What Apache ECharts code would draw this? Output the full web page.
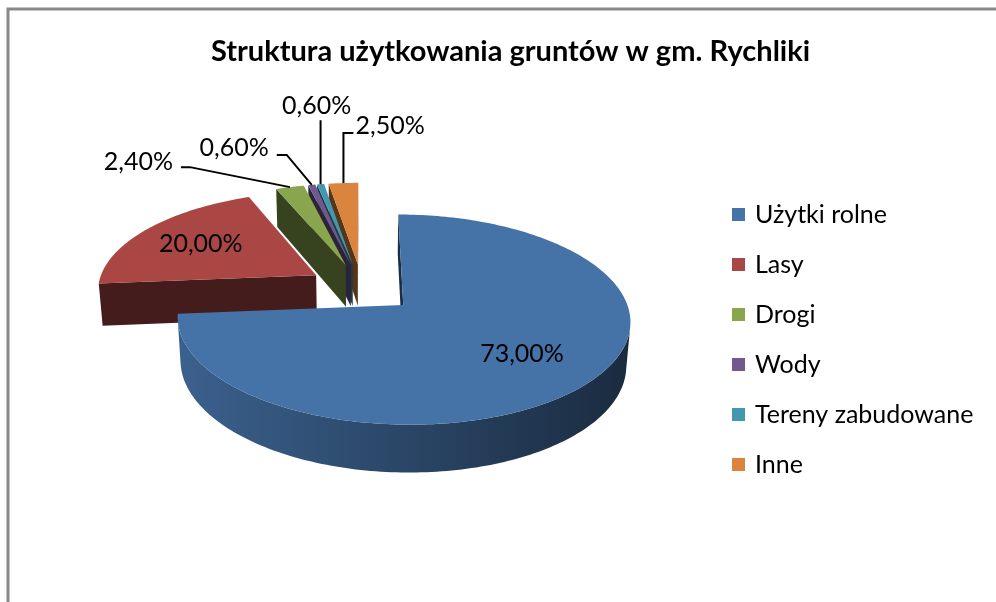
<!DOCTYPE html>
<html>
<head>
<meta charset="utf-8">
<script src="https://cdn.jsdelivr.net/npm/echarts@6/dist/echarts.min.js"></script>
<style>
  html, body { margin: 0; padding: 0; background: #fff; }
  #chart { width: 996px; height: 602px; }
</style>
</head>
<body>
<div id="chart"></div>
<script>
// dane wykresu
const titleText = 'Struktura użytkowania gruntów w gm. Rychliki';
const categories = ['Użytki rolne', 'Lasy', 'Drogi', 'Wody', 'Tereny zabudowane', 'Inne'];
const values = [73.0, 20.0, 2.4, 0.6, 0.6, 2.5];

// kolory (styl Excel 2007)
const colors = ['#4572a7', '#aa4643', '#89a54e', '#71588f', '#4198af', '#db843d'];

// parametry rzutu 3D
const CX = 362, CY = 288;      // środek tortu na ekranie
const F = 219;                 // skala (px na promień)
const DIST = 6.6;              // odległość kamery
const SA = Math.sin(26.7 * Math.PI / 180), CA = Math.cos(26.7 * Math.PI / 180);
const H = 0.22;                // grubość
const EXPLODE = 0.25;          // rozsunięcie wycinków

// położenie etykiet: wewnątrz (rho) lub z linią odniesienia
const labelLayout = [
    { inside: true, rho: 0.66 },
    { inside: true, rho: 0.67 },
    { knee: [-100, -20], end: [-109, -20], text: [-117, -25], align: 'right' },
    { knee: [-25, -30], end: [-35, -30], text: [-43, -37], align: 'right' },
    { knee: [0, -64], end: [0, -64], text: [-4, -78], align: 'center' },
    { knee: [0, -50], end: [10, -50], text: [12, -57], align: 'left' }
];

const total = values.reduce((s, v) => s + v, 0);
const startAngles = [];
(function () {
    let acc = 0;
    values.forEach(v => {
        startAngles.push(acc / total * Math.PI * 2);
        acc += v;
    });
})();

const CAM = [0, -DIST * CA, DIST * SA];

function proj(x, y, z) {
    const w = y * CA - z * SA;
    const u = y * SA + z * CA;
    const k = DIST / (DIST + w);
    return [CX + F * x * k, CY - F * u * k];
}

function shade(hex, f) {
    const n = parseInt(hex.slice(1), 16);
    const r = Math.round(((n >> 16) & 255) * f);
    const g = Math.round(((n >> 8) & 255) * f);
    const b = Math.round((n & 255) * f);
    return 'rgb(' + r + ',' + g + ',' + b + ')';
}

function fmtPct(v) {
    return v.toFixed(2).replace('.', ',') + '%';
}

function makeRenderItem(i) {
    return function (params, api) {
        const value = api.value(0);
        const a0 = startAngles[i];
        const a1 = a0 + value / total * Math.PI * 2;
        const mid = (a0 + a1) / 2;
        const ox = EXPLODE * Math.sin(mid), oy = EXPLODE * Math.cos(mid);
        const p3 = (ang, r, z) => [ox + r * Math.sin(ang), oy + r * Math.cos(ang), z];
        const pt = (ang, r, z) => { const p = p3(ang, r, z); return proj(p[0], p[1], p[2]); };
        const children = [];
        const color = colors[i];
        const steps = Math.max(4, Math.ceil((a1 - a0) / 0.02));

        // ściany boczne (radialne)
        const apexTop = proj(ox, oy, 0), apexBot = proj(ox, oy, -H);
        [[a0, a0 - Math.PI / 2], [a1, a1 + Math.PI / 2]].forEach(([ang, nAng]) => {
            const nx = Math.sin(nAng), ny = Math.cos(nAng);
            const dot = (CAM[0] - ox) * nx + (CAM[1] - oy) * ny;
            if (dot > 0) {
                children.push({
                    type: 'polygon',
                    shape: { points: [apexTop, pt(ang, 1, 0), pt(ang, 1, -H), apexBot] },
                    style: { fill: shade(color, 0.4) }
                });
            }
        });

        // ściana zewnętrzna (łuk)
        let run = [];
        const flush = () => {
            if (run.length > 1) {
                const top = run.map(a => pt(a, 1, 0));
                const bot = run.map(a => pt(a, 1, -H)).reverse();
                children.push({
                    type: 'polygon',
                    shape: { points: top.concat(bot) },
                    style: {
                        fill: new echarts.graphic.LinearGradient(0, 0, 1, 0, [
                            { offset: 0, color: shade(color, 0.85) },
                            { offset: 1, color: shade(color, 0.38) }
                        ])
                    }
                });
            }
            run = [];
        };
        for (let s = 0; s <= steps; s++) {
            const a = a0 + (a1 - a0) * s / steps;
            const p = p3(a, 1, 0);
            const vis = (CAM[0] - p[0]) * Math.sin(a) + (CAM[1] - p[1]) * Math.cos(a) > 0;
            if (vis) run.push(a); else flush();
        }
        flush();

        // powierzchnia górna
        const topPts = [apexTop];
        for (let s = 0; s <= steps; s++) {
            topPts.push(pt(a0 + (a1 - a0) * s / steps, 1, 0));
        }
        children.push({ type: 'polygon', shape: { points: topPts }, style: { fill: color } });

        // etykieta
        const lay = labelLayout[i];
        const font = '25px Lato, sans-serif';
        if (lay.inside) {
            const c = pt(mid, lay.rho, 0);
            children.push({
                type: 'text',
                style: { text: fmtPct(value), x: c[0], y: c[1], align: 'center', verticalAlign: 'middle', font: font, fill: '#000' }
            });
        } else {
            const anc = pt(mid, 1, 0);
            const knee = [anc[0] + lay.knee[0], anc[1] + lay.knee[1]];
            const end = [anc[0] + lay.end[0], anc[1] + lay.end[1]];
            children.push({
                type: 'polyline',
                shape: { points: [anc, knee, end] },
                style: { stroke: '#000', lineWidth: 2, fill: null }
            });
            children.push({
                type: 'text',
                style: {
                    text: fmtPct(value), x: anc[0] + lay.text[0], y: anc[1] + lay.text[1],
                    align: lay.align, verticalAlign: 'middle', font: font, fill: '#000'
                }
            });
        }
        return { type: 'group', children: children };
    };
}

// kolejność rysowania: od tyłu do przodu
const drawOrder = [5, 4, 3, 2, 1, 0];
const series = categories.map((name, i) => ({
    type: 'custom',
    name: name,
    coordinateSystem: 'none',
    silent: true,
    z: 2 + drawOrder.indexOf(i),
    itemStyle: { color: colors[i] },
    data: [[values[i]]],
    renderItem: makeRenderItem(i)
}));

const chart = echarts.init(document.getElementById('chart'));
chart.setOption({
    animation: false,
    color: colors,
    title: {
        text: titleText,
        left: 206,
        top: 32,
        textStyle: { fontFamily: 'Lato', fontWeight: 'bold', fontSize: 29, color: '#000' }
    },
    legend: {
        orient: 'vertical',
        left: 727,
        top: 197,
        icon: 'rect',
        itemWidth: 13,
        itemHeight: 13,
        itemGap: 25,
        selectedMode: false,
        data: categories,
        textStyle: { fontFamily: 'Lato', fontSize: 25, color: '#000', padding: [0, 0, 0, 5] }
    },
    graphic: [{
        type: 'rect',
        z: 100,
        shape: { x: 8, y: 9, width: 1400, height: 900 },
        style: { fill: null, stroke: '#888', lineWidth: 3 }
    }],
    series: series
});
</script>
</body>
</html>
